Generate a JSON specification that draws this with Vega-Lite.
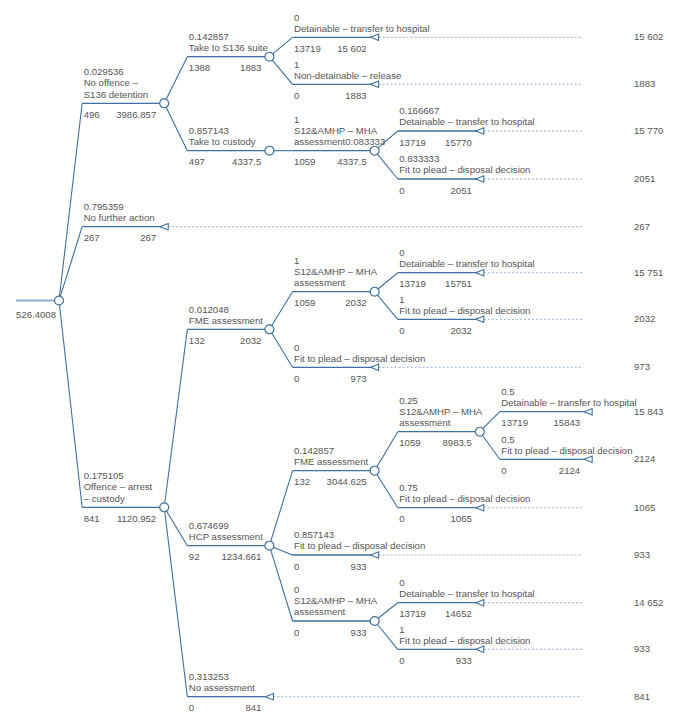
{
  "$schema": "https://vega.github.io/schema/vega-lite/v6.json",
  "width": 676,
  "height": 718,
  "autosize": {"type": "fit", "contains": "padding"},
  "padding": 0,
  "background": "white",
  "config": {
    "view": {"stroke": null},
    "text": {"font": "Liberation Sans", "fontSize": 9.6, "fill": "#555555"}
  },
  "datasets": {
    "origin": [{"col": 0, "xs": -0.409, "y": 300.5, "value": "526.4008"}],
    "branches": [
      {"id": "B1", "name": "No offence –\nS136 detention", "prob": "0.029536", "cost": "496", "value": "3986.857", "node": "chance", "pcol": 0, "py": 300.5, "xs": 0.22, "col": 1, "y": 103.3},
      {"id": "B2", "name": "No further action", "prob": "0.795359", "cost": "267", "value": "267", "payoff": "267", "node": "terminal", "pcol": 0, "py": 300.5, "xs": 0.22, "col": 1, "y": 226.7},
      {"id": "B3", "name": "Offence – arrest\n– custody", "prob": "0.175105", "cost": "841", "value": "1120.952", "node": "chance", "pcol": 0, "py": 300.5, "xs": 0.22, "col": 1, "y": 507.3},
      {"id": "B11", "name": "Take to S136 suite", "prob": "0.142857", "cost": "1388", "value": "1883", "node": "chance", "pcol": 1, "py": 103.3, "xs": 1.22, "col": 2, "y": 56.7},
      {"id": "B12", "name": "Take to custody", "prob": "0.857143", "cost": "497", "value": "4337.5", "node": "chance", "pcol": 1, "py": 103.3, "xs": 1.22, "col": 2, "y": 150.7},
      {"id": "B31", "name": "FME assessment", "prob": "0.012048", "cost": "132", "value": "2032", "node": "chance", "pcol": 1, "py": 507.3, "xs": 1.22, "col": 2, "y": 329.3},
      {"id": "B32", "name": "HCP assessment", "prob": "0.674699", "cost": "92", "value": "1234.661", "node": "chance", "pcol": 1, "py": 507.3, "xs": 1.22, "col": 2, "y": 545.7},
      {"id": "B33", "name": "No assessment", "prob": "0.313253", "cost": "0", "value": "841", "payoff": "841", "node": "terminal", "pcol": 1, "py": 507.3, "xs": 1.22, "col": 2, "y": 696.7},
      {"id": "B111", "name": "Detainable – transfer to hospital", "prob": "0", "cost": "13719", "value": "15 602", "payoff": "15 602", "node": "terminal", "pcol": 2, "py": 56.7, "xs": 2.22, "col": 3, "y": 37.3},
      {"id": "B112", "name": "Non-detainable – release", "prob": "1", "cost": "0", "value": "1883", "payoff": "1883", "node": "terminal", "pcol": 2, "py": 56.7, "xs": 2.22, "col": 3, "y": 84.3},
      {"id": "B121", "name": "S12&AMHP – MHA\nassessment0.083333", "prob": "1", "cost": "1059", "value": "4337.5", "node": "chance", "pcol": 2, "py": 150.7, "xs": 2.22, "col": 3, "y": 150.7},
      {"id": "B311", "name": "S12&AMHP – MHA\nassessment", "prob": "1", "cost": "1059", "value": "2032", "node": "chance", "pcol": 2, "py": 329.3, "xs": 2.22, "col": 3, "y": 291.7},
      {"id": "B312", "name": "Fit to plead – disposal decision", "prob": "0", "cost": "0", "value": "973", "payoff": "973", "node": "terminal", "pcol": 2, "py": 329.3, "xs": 2.22, "col": 3, "y": 367.3},
      {"id": "B321", "name": "FME assessment", "prob": "0.142857", "cost": "132", "value": "3044.625", "node": "chance", "pcol": 2, "py": 545.7, "xs": 2.22, "col": 3, "y": 470.7},
      {"id": "B322", "name": "Fit to plead – disposal decision", "prob": "0.857143", "cost": "0", "value": "933", "payoff": "933", "node": "terminal", "pcol": 2, "py": 545.7, "xs": 2.22, "col": 3, "y": 555},
      {"id": "B323", "name": "S12&AMHP – MHA\nassessment", "prob": "0", "cost": "0", "value": "933", "node": "chance", "pcol": 2, "py": 545.7, "xs": 2.22, "col": 3, "y": 621},
      {"id": "B1211", "name": "Detainable – transfer to hospital", "prob": "0.166667", "cost": "13719", "value": "15770", "payoff": "15 770", "node": "terminal", "pcol": 3, "py": 150.7, "xs": 3.22, "col": 4, "y": 131},
      {"id": "B1212", "name": "Fit to plead – disposal decision", "prob": "0.833333", "cost": "0", "value": "2051", "payoff": "2051", "node": "terminal", "pcol": 3, "py": 150.7, "xs": 3.22, "col": 4, "y": 179},
      {"id": "B3111", "name": "Detainable – transfer to hospital", "prob": "0", "cost": "13719", "value": "15751", "payoff": "15 751", "node": "terminal", "pcol": 3, "py": 291.7, "xs": 3.22, "col": 4, "y": 272.7},
      {"id": "B3112", "name": "Fit to plead – disposal decision", "prob": "1", "cost": "0", "value": "2032", "payoff": "2032", "node": "terminal", "pcol": 3, "py": 291.7, "xs": 3.22, "col": 4, "y": 319.3},
      {"id": "B3211", "name": "S12&AMHP – MHA\nassessment", "prob": "0.25", "cost": "1059", "value": "8983.5", "node": "chance", "pcol": 3, "py": 470.7, "xs": 3.22, "col": 4, "y": 431.7},
      {"id": "B3212", "name": "Fit to plead – disposal decision", "prob": "0.75", "cost": "0", "value": "1065", "payoff": "1065", "node": "terminal", "pcol": 3, "py": 470.7, "xs": 3.22, "col": 4, "y": 507.7},
      {"id": "B3231", "name": "Detainable – transfer to hospital", "prob": "0", "cost": "13719", "value": "14652", "payoff": "14 652", "node": "terminal", "pcol": 3, "py": 621, "xs": 3.22, "col": 4, "y": 602.7},
      {"id": "B3232", "name": "Fit to plead – disposal decision", "prob": "1", "cost": "0", "value": "933", "payoff": "933", "node": "terminal", "pcol": 3, "py": 621, "xs": 3.22, "col": 4, "y": 649.3},
      {"id": "B32111", "name": "Detainable – transfer to hospital", "prob": "0.5", "cost": "13719", "value": "15843", "payoff": "15 843", "node": "terminal", "pcol": 4, "py": 431.7, "xs": 4.19, "col": 5.03, "y": 411.7},
      {"id": "B32112", "name": "Fit to plead – disposal decision", "prob": "0.5", "cost": "0", "value": "2124", "payoff": "2124", "node": "terminal", "pcol": 4, "py": 431.7, "xs": 4.19, "col": 5.03, "y": 459.3}
    ]
  },
  "layer": [
    {
      "data": {"name": "origin"},
      "mark": {"type": "rule", "color": "#8db0d1", "strokeWidth": 2},
      "encoding": {
        "x": {"field": "xs", "type": "quantitative", "scale": {"domain": [-0.561, 5.865], "nice": false, "zero": false}, "axis": null},
        "x2": {"field": "col"},
        "y": {"field": "y", "type": "quantitative", "scale": {"domain": [0, 718], "reverse": true, "nice": false, "zero": false}, "axis": null}
      }
    },
    {
      "data": {"name": "branches"},
      "mark": {"type": "rule", "color": "#3f6f9c", "strokeWidth": 1.1},
      "encoding": {
        "x": {"field": "pcol", "type": "quantitative"},
        "x2": {"field": "xs"},
        "y": {"field": "py", "type": "quantitative"},
        "y2": {"field": "y"}
      }
    },
    {
      "data": {"name": "branches"},
      "mark": {"type": "rule", "color": "#3f6f9c", "strokeWidth": 1.3},
      "encoding": {
        "x": {"field": "xs", "type": "quantitative"},
        "x2": {"field": "col"},
        "y": {"field": "y", "type": "quantitative"}
      }
    },
    {
      "data": {"name": "branches"},
      "transform": [{"filter": "datum.node === 'terminal'"}],
      "mark": {"type": "rule", "color": "#86a9cb", "strokeWidth": 0.9, "strokeDash": [2, 2]},
      "encoding": {
        "x": {"field": "col", "type": "quantitative"},
        "x2": {"datum": 4.97},
        "y": {"field": "y", "type": "quantitative"}
      }
    },
    {
      "data": {"name": "branches"},
      "transform": [{"filter": "datum.node === 'chance'"}],
      "mark": {"type": "point", "shape": "circle", "size": 80, "filled": true, "fill": "white", "stroke": "#3f6f9c", "strokeWidth": 1.2, "opacity": 1},
      "encoding": {
        "x": {"field": "col", "type": "quantitative"},
        "y": {"field": "y", "type": "quantitative"}
      }
    },
    {
      "data": {"name": "origin"},
      "mark": {"type": "point", "shape": "circle", "size": 80, "filled": true, "fill": "white", "stroke": "#3f6f9c", "strokeWidth": 1.2, "opacity": 1},
      "encoding": {
        "x": {"field": "col", "type": "quantitative"},
        "y": {"field": "y", "type": "quantitative"}
      }
    },
    {
      "data": {"name": "branches"},
      "transform": [{"filter": "datum.node === 'terminal'"}],
      "mark": {"type": "point", "shape": "M -1 0 L 1 -0.8 L 1 0.8 Z", "size": 64, "filled": true, "fill": "white", "stroke": "#3f6f9c", "strokeWidth": 1.1, "opacity": 1},
      "encoding": {
        "x": {"field": "col", "type": "quantitative"},
        "y": {"field": "y", "type": "quantitative"}
      }
    },
    {
      "data": {"name": "branches"},
      "transform": [
        {"filter": "indexof(datum.name, '\\n') < 0"},
        {"calculate": "datum.prob + '\\n' + datum.name", "as": "label"}
      ],
      "mark": {"type": "text", "align": "left", "baseline": "alphabetic", "dx": 1.5, "dy": -16.8, "lineBreak": "\n", "lineHeight": 11.3},
      "encoding": {
        "x": {"field": "xs", "type": "quantitative"},
        "y": {"field": "y", "type": "quantitative"},
        "text": {"field": "label"}
      }
    },
    {
      "data": {"name": "branches"},
      "transform": [
        {"filter": "indexof(datum.name, '\\n') >= 0"},
        {"calculate": "datum.prob + '\\n' + datum.name", "as": "label"}
      ],
      "mark": {"type": "text", "align": "left", "baseline": "alphabetic", "dx": 1.5, "dy": -28.1, "lineBreak": "\n", "lineHeight": 11.3},
      "encoding": {
        "x": {"field": "xs", "type": "quantitative"},
        "y": {"field": "y", "type": "quantitative"},
        "text": {"field": "label"}
      }
    },
    {
      "data": {"name": "branches"},
      "mark": {"type": "text", "align": "left", "baseline": "alphabetic", "dx": 1.5, "dy": 14.5},
      "encoding": {
        "x": {"field": "xs", "type": "quantitative"},
        "y": {"field": "y", "type": "quantitative"},
        "text": {"field": "cost"}
      }
    },
    {
      "data": {"name": "branches"},
      "mark": {"type": "text", "align": "right", "baseline": "alphabetic", "dx": -8, "dy": 14.5},
      "encoding": {
        "x": {"field": "col", "type": "quantitative"},
        "y": {"field": "y", "type": "quantitative"},
        "text": {"field": "value"}
      }
    },
    {
      "data": {"name": "branches"},
      "transform": [{"filter": "datum.node === 'terminal'"}],
      "mark": {"type": "text", "align": "left", "baseline": "middle"},
      "encoding": {
        "x": {"datum": 5.466},
        "y": {"field": "y", "type": "quantitative"},
        "text": {"field": "payoff"}
      }
    },
    {
      "data": {"name": "origin"},
      "mark": {"type": "text", "align": "left", "baseline": "alphabetic", "dy": 17},
      "encoding": {
        "x": {"field": "xs", "type": "quantitative"},
        "y": {"field": "y", "type": "quantitative"},
        "text": {"field": "value"}
      }
    }
  ]
}
